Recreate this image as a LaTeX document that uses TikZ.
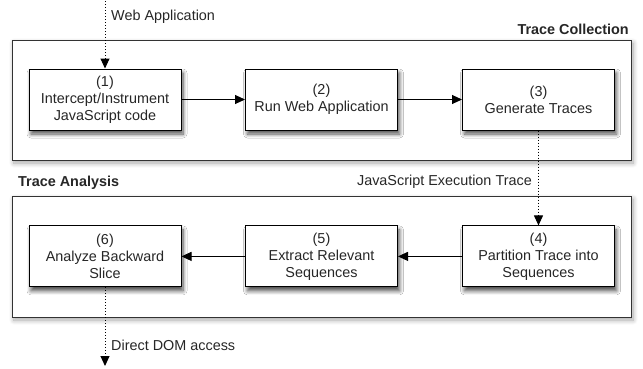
\documentclass[tikz,border=0pt]{standalone}
\usepackage{fontspec}
\setmainfont{Liberation Sans}
\usetikzlibrary{arrows.meta,shadows.blur}
\begin{document}
\begin{tikzpicture}[x=1pt,y=-1pt,
  txt/.style={font=\fontsize{14.4}{17}\selectfont, text=black!85},
  proc/.style={txt, draw=black, line width=1pt, fill=white, minimum width=152pt, minimum height=61pt, align=center, inner sep=2pt,
    blur shadow={shadow xshift=2pt, shadow yshift=-4pt, shadow blur steps=8, shadow blur radius=4pt, shadow opacity=70}},
  group/.style={draw=black!80, line width=1pt, fill=white, inner sep=0pt,
    blur shadow={shadow xshift=2pt, shadow yshift=-3pt, shadow blur steps=8, shadow blur radius=5pt, shadow opacity=35}},
  lbl/.style={txt, inner sep=0pt},
  ttl/.style={txt, font=\fontsize{14.4}{17}\selectfont\bfseries, inner sep=0pt},
  flow/.style={line width=1pt, -{Triangle[length=10pt,width=9pt]}},
  dflow/.style={flow, dotted}
]
\useasboundingbox (0,0) rectangle (643,368);
\node[group, minimum width=619pt, minimum height=120pt] (tc) at (321.5,100) {};
\node[group, minimum width=619pt, minimum height=121pt] (ta) at (321.5,256.5) {};
\node[ttl, anchor=base east] (tcl) at (629,34) {Trace Collection};
\node[ttl, anchor=base west] (tal) at (18,186) {Trace Analysis};

\node[proc] (n1) at (105,99.5) {(1)\\Intercept/Instrument\\JavaScript code};
\node[proc] (n2) at (321.5,99.5) {(2)\\Run Web Application};
\node[proc] (n3) at (538.5,99.5) {(3)\\Generate Traces};
\node[proc] (n4) at (538.5,256.4) {(4)\\Partition Trace into\\Sequences};
\node[proc] (n5) at (321.5,256.4) {(5)\\Extract Relevant\\Sequences};
\node[proc] (n6) at (105,256.4) {(6)\\Analyze Backward\\Slice};

\coordinate (top) at (105,1);
\coordinate (bot) at (105,366);
\draw[dflow] (top) -- (n1.north);
\draw[flow] (n1) -- (n2);
\draw[flow] (n2) -- (n3);
\draw[dflow] (n3.south) -- (n4.north);
\draw[flow] (n4) -- (n5);
\draw[flow] (n5) -- (n6);
\draw[dflow] (n6.south) -- (bot);

\node[lbl, anchor=base west] (wa) at (111,20) {Web Application};
\node[lbl, anchor=base east] (jet) at (532,185) {JavaScript Execution Trace};
\node[lbl, anchor=base west] (dom) at (111,350) {Direct DOM access};
\end{tikzpicture}
\end{document}
